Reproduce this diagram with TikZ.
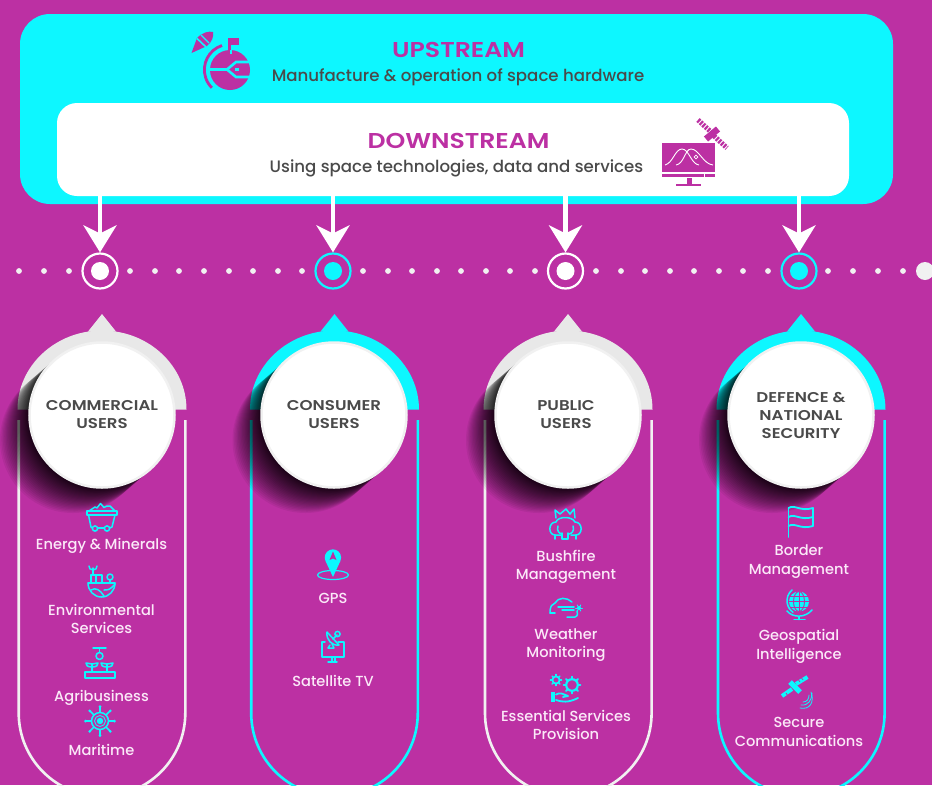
\documentclass[tikz,border=0pt]{standalone}
\usepackage{fontspec}
\setmainfont{Poppins Medium}
\newfontfamily\hdfont[FakeStretch=1.17]{Poppins SemiBold}
\usetikzlibrary{arrows.meta}
\definecolor{bgm}{HTML}{BC30A3}
\definecolor{cy}{HTML}{0DF7FF}
\definecolor{tx}{HTML}{4A4A4A}
\definecolor{lab}{HTML}{FBE9F8}
\definecolor{arc}{HTML}{E8E8E8}
\definecolor{rim}{HTML}{F1F1F1}
\tikzset{
  hub/.style={circle,draw=rim,line width=2.5pt,fill=white,minimum size=145pt,inner sep=0pt,align=center,text=tx,font=\hdfont\fontsize{14.2}{18}\selectfont},
  lbl/.style={align=center,text=lab,inner sep=0pt,font=\fontsize{14.6}{18.6}\selectfont},
  ttl/.style={text=bgm,inner sep=0pt,font=\hdfont\fontsize{21.5}{24}\selectfont},
  sub/.style={text=tx,inner sep=0pt,font=\fontsize{16.6}{20}\selectfont},
  ic/.style={draw=cy,line width=1.5pt,line cap=round,line join=round},
  conn/.style={draw=white,line width=4.5pt,-{Stealth[length=27pt,width=33pt,inset=8pt]}},
  ringw/.style={circle,draw=white,line width=2.2pt,minimum size=35pt,inner sep=0pt},
  ringc/.style={circle,draw=cy,line width=2.2pt,minimum size=35pt,inner sep=0pt},
  dotp/.style={fill=rim,draw=none},
}
\newcommand{\colblock}[4]{% centre, arch colour, line colour, pill-left
  \draw[#3,line width=2.6pt] (#4,420) -- (#4,713) arc[start angle=180,end angle=0,radius=83.3] -- (#4+166.6,420);
  \fill[#2] (#1-84.5,409.5) arc[start angle=180,end angle=360,x radius=84.5,y radius=79] -- cycle;
  \fill[#2] (#1-14,331.5) -- (#1,314) -- (#1+14,331.5) -- cycle;
  \foreach \i in {1,...,30}{
    \pgfmathsetmacro{\tt}{pow(\i/30,1.5)}
    \fill[black,fill opacity=0.06] (#1-\tt*29,415+\tt*25) circle[radius=73];
  }
}
\begin{document}
\begin{tikzpicture}[x=1pt,y=-1pt]
\useasboundingbox (0,0) rectangle (932,785);
\clip (0,0) rectangle (932,785);
\fill[bgm] (0,0) rectangle (932,785);
% top panels
\node[fill=cy,rounded corners=30pt,minimum width=873pt,minimum height=190pt,inner sep=0pt] (up) at (456.5,109) {};
\node[fill=white,rounded corners=20pt,minimum width=792pt,minimum height=93pt,inner sep=0pt] (down) at (453,149.5) {};
\node[ttl] (t1) at (458.5,50) {UPSTREAM};
\node[sub] (s1) at (458,77.5) {Manufacture \& operation of space hardware};
\node[ttl] (t2) at (458.5,141) {DOWNSTREAM};
\node[sub] (s2) at (456.5,168.5) {Using space technologies, data and services};
% upstream icon
\fill[bgm] (230,70) circle[radius=20];
\draw[bgm,line width=2.8pt] (222,45.5) arc[start angle=-108,end angle=-225,radius=25.5];
\fill[bgm] (228,38) rectangle (230.5,52);
\fill[bgm] (230,38) rectangle (238.5,45);
\draw[cy,line width=2.6pt] (209,69.5) -- (227,69.5) -- (236,62) -- (251,62);
\draw[cy,line width=2.6pt] (227,69.5) -- (236,77) -- (251,77);
\fill[cy] (235,68) rectangle (239,71);
\draw[cy,line width=2pt] (231,50) -- (231,54);
\fill[bgm] (191.5,53) -- (197,38) .. controls (203,32) and (209,31) .. (213,32) .. controls (214,36) and (212,42) .. (207,46) -- cycle;
\draw[cy,line width=1.6pt] (197,38.5) -- (206,47);
\draw[cy,line width=1.3pt] (201,35) -- (209,43);
% downstream icon
\fill[bgm] (662,142.5) rectangle (715,172);
\fill[bgm] (662,173.5) rectangle (703.5,177);
\fill[bgm] (705,173.5) rectangle (715,177);
\fill[bgm] (687,178) rectangle (692,184);
\fill[bgm] (676,183.5) rectangle (701,186);
\draw[white,line width=0.9pt] (665,165) .. controls (673,163) and (675,149) .. (682,149) .. controls (689,149) and (691,164) .. (699,165);
\draw[white,line width=0.9pt] (676,165) .. controls (684,164) and (685,149) .. (691,149) .. controls (699,149) and (703,164) .. (713,165);
\fill[bgm] (696,157) circle[radius=1.8];
\draw[white,line width=0.7pt] (696,157) circle[radius=1.9];
\draw[white,line width=8.5pt] (705,140) -- (719,128);
\draw[bgm,line width=6.5pt] (706,139) -- (718,129);
\draw[bgm,line width=5pt,dash pattern=on 2.2pt off 1.2pt] (698,120) -- (711,132);
\draw[bgm,line width=5pt,dash pattern=on 2.2pt off 1.2pt] (714,136) -- (727,148);
% dotted line
\foreach \x in {19,44,69,130,155,179,204,229,253,278,302,363,388,412,437,461,486,510,535,596,621,645,670,694,719,743,768,828,853,878,903}{
  \fill[dotp] (\x,271) circle[radius=2.9];
}
\fill[dotp] (925,271) circle[radius=9];
\node[ringw] (r1) at (100,271) {};
\node[ringc] (r2) at (333,271) {};
\node[ringw] (r3) at (565.5,271) {};
\node[ringc] (r4) at (799,271) {};
\fill[white] (r1) circle[radius=9];
\fill[cy] (r2) circle[radius=9];
\fill[white] (r3) circle[radius=9];
\fill[cy] (r4) circle[radius=9];
\coordinate (a1) at (100,196);
\coordinate (a2) at (333,196);
\coordinate (a3) at (565.5,196);
\coordinate (a4) at (799,196);
\draw[conn] (a1) -- (r1);
\draw[conn] (a2) -- (r2);
\draw[conn] (a3) -- (r3);
\draw[conn] (a4) -- (r4);
% columns
\colblock{102}{arc}{rim}{18.7}
\colblock{334.5}{cy}{cy}{251.2}
\colblock{568}{arc}{rim}{485}
\colblock{801}{cy}{cy}{718}
\node[hub] (h1) at (102,415) {COMMERCIAL\\USERS};
\node[hub] (h2) at (334,415) {CONSUMER\\USERS};
\node[hub] (h3) at (568,415) {\hspace*{-4pt}PUBLIC\\\hspace*{-4pt}USERS};
\node[hub] (h4) at (801,415) {DEFENCE \&\\NATIONAL\\SECURITY};
% labels
\node[lbl] (l1) at (101.5,546) {Energy \& Minerals};
\node[lbl] (l2) at (101.5,619) {Environmental\\Services};
\node[lbl] (l3) at (101.5,698) {Agribusiness};
\node[lbl] (l4) at (101.5,750) {Maritime};
\node[lbl] (l5) at (333,598) {GPS};
\node[lbl] (l6) at (333,681) {Satellite TV};
\node[lbl] (l7) at (566,567) {Bushfire\\Management};
\node[lbl] (l8) at (566,645) {Weather\\Monitoring};
\node[lbl] (l9) at (566,725) {Essential Services\\Provision};
\node[lbl] (l10) at (799,561.5) {Border\\Management};
\node[lbl] (l11) at (799,646.5) {Geospatial\\Intelligence};
\node[lbl] (l12) at (799,732) {Secure\\Communications};
% energy
\draw[ic] (87,511) rectangle (117,515);
\draw[ic] (88.5,515) -- (91,527) -- (92.5,528);
\draw[ic] (97.5,528) -- (104.5,528);
\draw[ic] (109.5,528) -- (112,527) -- (115,515);
\draw[ic] (95,528.5) circle[radius=2.6];
\draw[ic] (107,528.5) circle[radius=2.6];
\draw[ic] (89,511) -- (95,507) -- (97,508) -- (100.5,503.5) -- (104,507.5) -- (107,506) -- (110,506) -- (115,511);
% environmental
\draw[ic] (88,583) -- (115,583);
\draw[ic] (88,583) arc[start angle=180,end angle=0,x radius=13.5,y radius=14];
\draw[ic] (91,590) .. controls (96,587) and (100,590) .. (104,596);
\draw[ic] (115,584) .. controls (110,590) and (108,590) .. (104,590);
\draw[ic] (91,583) -- (91,575) -- (102,575) -- (102,583);
\draw[ic] (96,575) -- (96,583);
\draw[ic] (93,575) -- (93,568);
\draw[ic] (93,570) .. controls (90,570) and (89,568) .. (89,566);
\draw[ic] (93,570) .. controls (96,570) and (97,568) .. (97,566);
\draw[ic] (110,577) circle[radius=3];
\draw[ic] (110,580) -- (110,583);
% agri
\draw[ic] (93,648) -- (106,648);
\draw[ic] (99.5,648) -- (99.5,652);
\draw[ic] (99.5,656) circle[radius=3.5];
\draw[ic] (85,672) rectangle (115,678);
\draw[ic] (92,672) -- (92,664);
\draw[ic] (107,672) -- (107,664);
\draw[ic] (92,667) .. controls (87,667) and (86,665) .. (86,663) -- (92,664) -- (98,663) .. controls (98,665) and (97,667) .. (92,667);
\draw[ic] (107,667) .. controls (102,667) and (101,665) .. (101,663) -- (107,664) -- (113,663) .. controls (113,665) and (112,667) .. (107,667);
% maritime
\draw[ic] (100,721) circle[radius=8.5];
\draw[ic,line width=0.9pt] (100,721) circle[radius=5.5];
\fill[cy] (100,721) circle[radius=3.2];
\foreach \a in {0,45,...,315}{
  \draw[ic] (100,721) ++(\a:8.5) -- ++(\a:5.5);
  \fill[cy] (100,721) ++(\a:14.5) circle[radius=1.5];
}
% gps
\draw[ic,line width=1.2pt] (333,575) ellipse[x radius=15.5,y radius=4.5];
\fill[cy] (333,577) -- (325.5,561) arc[start angle=155,end angle=385,radius=8.2] -- cycle;
\fill[bgm] (333,551.5) -- (336.5,560) -- (333,558.5) -- (329.5,560) -- cycle;
% satellite tv
\draw[ic] (322,650) -- (322,657) -- (344,657) -- (344,642) -- (338,642);
\draw[ic] (322,650) -- (322,642) -- (325,642);
\draw[ic] (332,657) -- (332,661);
\draw[ic] (335,657) -- (335,661);
\draw[ic] (328,662) -- (337,662);
\draw[ic] (327,632) .. controls (326,640) and (332,646) .. (339,645) -- cycle;
\draw[ic] (333,639) -- (337,635);
\draw[ic] (337.5,634) circle[radius=2.6];
\draw[ic] (330,645) -- (328,648) -- (334,648) -- (332,644);
% bushfire
\draw[ic] (561,535) -- (555,535) .. controls (548,535) and (548,522) .. (556,522);
\draw[ic] (556,522) .. controls (558,516) and (572,516) .. (575,522) .. controls (583,522) and (583,535) .. (576,535) -- (571,535);
\draw[ic] (558,526) .. controls (556,531) and (560,534) .. (562,534);
\draw[ic] (573,526) .. controls (575,531) and (571,534) .. (569,534);
\draw[ic] (562,533) -- (562,539) -- (568,539) -- (568,533);
\draw[ic] (555,539) -- (555,535);
\draw[ic] (576,539) -- (576,535);
\draw[ic] (556,518) -- (555,510) -- (560,514) -- (566,509) -- (570,514) -- (574,509) -- (575,518);
% weather
\draw[ic] (550,613) .. controls (550,606) and (552,604) .. (555,603) .. controls (558,597) and (567,597) .. (572,602);
\draw[ic] (550,613) -- (555,613);
\draw[ic] (558,607) -- (574,607);
\draw[ic] (562,610) -- (574,610);
\draw[ic] (567,617) -- (575,617) .. controls (578,616) and (578,613) .. (577,611);
\fill[cy] (579,608) circle[radius=2];
\foreach \a in {0,60,...,300}{\draw[ic,line width=0.9pt] (579,608) -- ++(\a:3.5);}
% services
\draw[ic,line width=1.8pt] (556,680) circle[radius=3.6];
\draw[ic,line width=2.2pt] (572,685) circle[radius=5.8];
\foreach \a in {0,45,...,315}{
  \draw[ic,line width=1.5pt] (556,680) ++(\a:4.2) -- ++(\a:1.4);
  \draw[ic,line width=1.9pt] (572,685) ++(\a:6.5) -- ++(\a:1.8);
}
\fill[cy] (551,692) rectangle (555,702);
\draw[ic,line width=1.8pt] (556,694.5) .. controls (560,692) and (563,694) .. (568,696) -- (563,697);
\draw[ic,line width=1.8pt] (556,700) .. controls (562,702) and (568,703) .. (578,698);
% border flag
\draw[ic,line width=1.8pt] (788.5,508) -- (788.5,537);
\draw[ic,line width=1.8pt] (788.5,508) .. controls (795,504) and (800,512) .. (813,508) -- (813,526) .. controls (800,530) and (795,522) .. (788.5,526);
\draw[ic,line width=1.8pt] (788.5,517) .. controls (795,513) and (800,521) .. (813,517);
% geo
\fill[cy] (799,601.5) circle[radius=10];
\draw[bgm,line width=0.9pt] (789,601.5) -- (809,601.5);
\draw[bgm,line width=0.9pt] (790,596) -- (808,596);
\draw[bgm,line width=0.9pt] (790,607) -- (808,607);
\draw[bgm,line width=0.9pt] (799,591.5) -- (799,611.5);
\draw[bgm,line width=0.9pt] (799,601.5) ellipse[x radius=5.5,y radius=10];
\draw[ic] (792,590) arc[start angle=-130,end angle=-235,radius=14] ;
\draw[ic] (787,611) .. controls (793,618) and (805,618) .. (812,610);
\draw[ic] (799,617) -- (799,619.5);
\draw[ic] (794,619.5) -- (805,619.5);
% secure comms
\draw[cy,line width=5pt] (790,682) -- (800,692);
\draw[cy,line width=4pt] (796,684) -- (807.5,677);
\draw[cy,line width=4pt] (782,696) -- (792,689);
\draw[bgm,line width=0.7pt] (800,682) -- (798.5,680);
\draw[bgm,line width=0.7pt] (803,680) -- (801.5,678);
\draw[bgm,line width=0.7pt] (786,693) -- (788,696);
\draw[ic,line width=0.8pt] (803,702) .. controls (807,702) and (809,699) .. (809,695);
\draw[ic,line width=0.8pt] (801,705) .. controls (808,706) and (812,700) .. (812,693);
\draw[ic,line width=0.8pt] (800,708) .. controls (809,710) and (815,703) .. (811,692);
\end{tikzpicture}
\end{document}
